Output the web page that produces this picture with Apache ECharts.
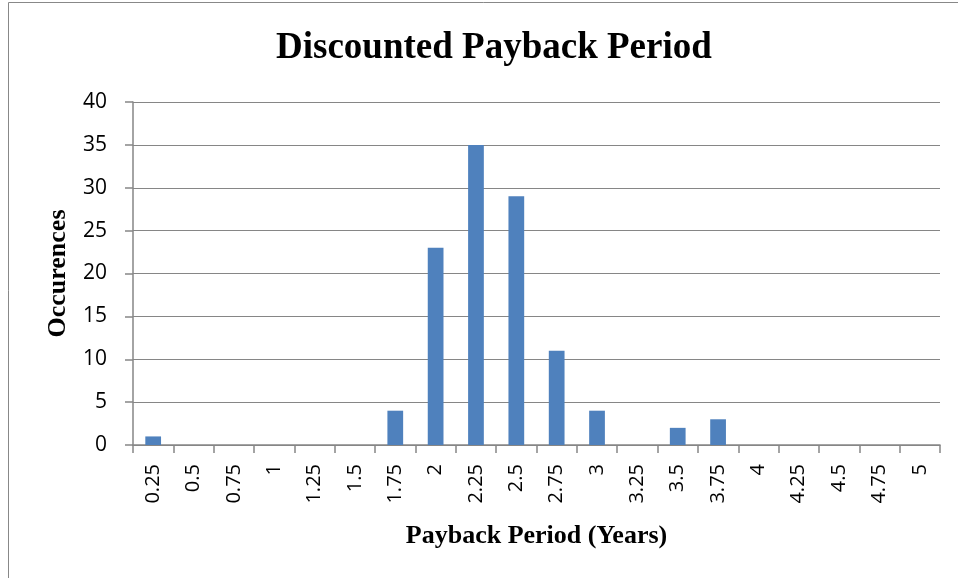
<!DOCTYPE html>
<html><head><meta charset="utf-8">
<script src="https://cdn.jsdelivr.net/npm/echarts@6/dist/echarts.min.js"></script>
<style>html,body{margin:0;padding:0;background:#fff}#c{width:958px;height:578px}</style>
</head><body><div id="c"></div>
<script>
const categories = ['0.25','0.5','0.75','1','1.25','1.5','1.75','2','2.25','2.5','2.75','3','3.25','3.5','3.75','4','4.25','4.5','4.75','5'];
const occurrences = [1,0,0,0,0,0,4,23,35,29,11,4,0,2,3,0,0,0,0,0];
const yTicks = {min:0, max:40, interval:5};

const chart = echarts.init(document.getElementById('c'));
chart.setOption({
  animation:false,
  graphic:[{type:'rect',shape:{x:8.5,y:2.5,width:980,height:620},style:{fill:'none',stroke:'#888',lineWidth:1},z:-1}],
  title:{text:'Discounted Payback Period',left:271,top:25,
    textStyle:{fontFamily:'Liberation Serif',fontWeight:'bold',fontSize:37,color:'#000'}},
  grid:{left:133,right:18,top:102,bottom:133},
  xAxis:{type:'category',data:categories,
    name:'Payback Period (Years)',nameLocation:'middle',nameGap:78,
    nameTextStyle:{fontFamily:'Liberation Serif',fontWeight:'bold',fontSize:26,color:'#000'},
    axisLine:{lineStyle:{color:'#868686',width:1.5}},
    axisTick:{show:true,length:8,lineStyle:{color:'#868686',width:1.5}},
    axisLabel:{rotate:90,interval:0,margin:19,fontFamily:'Open Sans',fontSize:20,color:'#000'}},
  yAxis:{type:'value',min:yTicks.min,max:yTicks.max,interval:yTicks.interval,
    name:'Occurences',nameLocation:'middle',nameGap:62,
    nameTextStyle:{fontFamily:'Liberation Serif',fontWeight:'bold',fontSize:26,color:'#000'},
    axisLine:{show:true,lineStyle:{color:'#868686',width:1.5}},
    axisTick:{show:true,length:8,lineStyle:{color:'#868686',width:1.5}},
    splitLine:{lineStyle:{color:'#868686',width:1.2}},
    axisLabel:{margin:26,fontFamily:'Open Sans',fontSize:21,color:'#000'}},
  series:[{type:'bar',data:occurrences,barWidth:'39%',itemStyle:{color:'#4F81BD'}}]
});
</script></body></html>
